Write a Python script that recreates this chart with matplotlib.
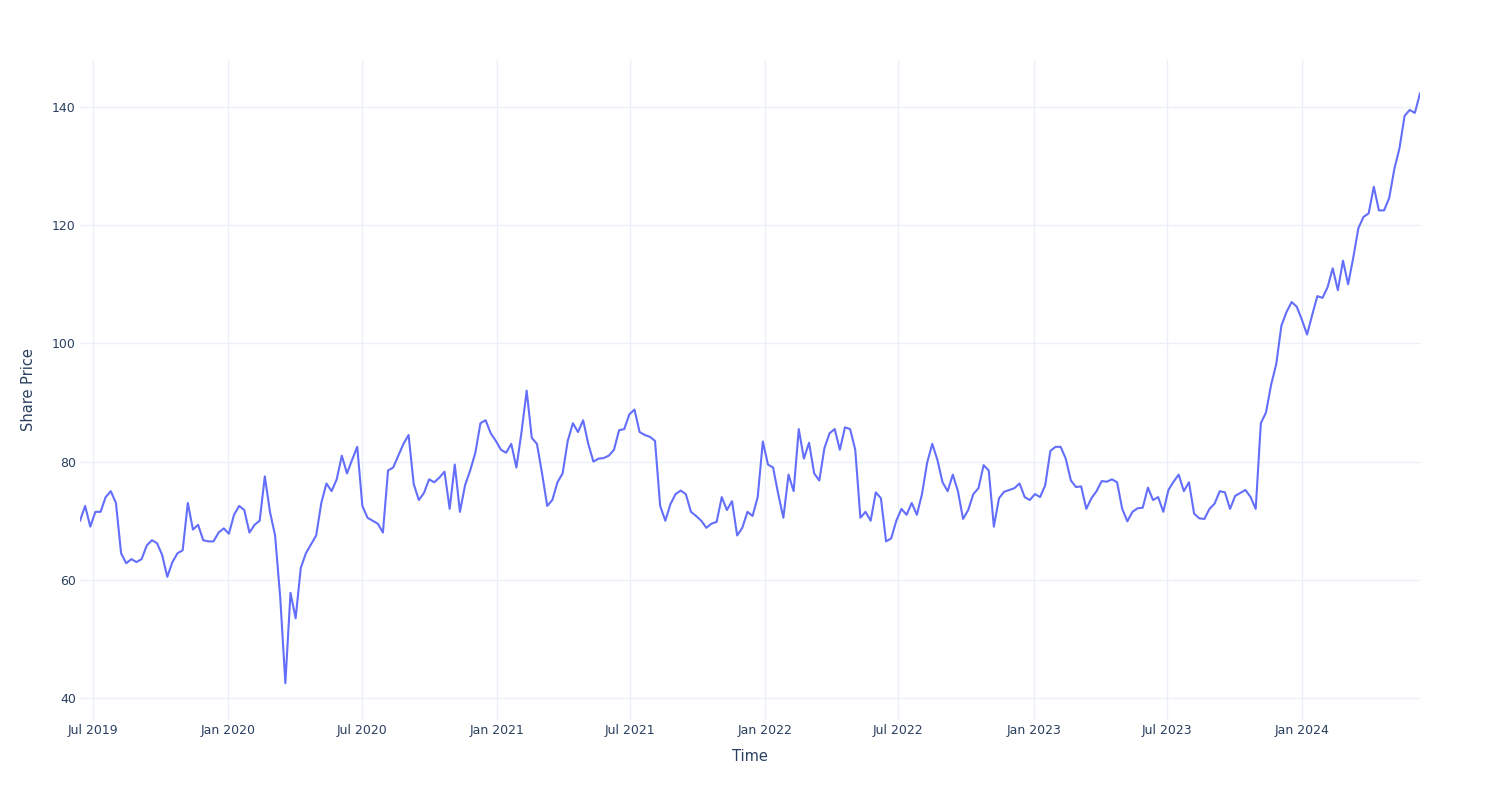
import pandas as pd
import matplotlib
matplotlib.use("Agg")
import matplotlib.pyplot as plt
import matplotlib.dates as mdates

# price, one value roughly every week
start_date = "2019-06-13"
end_date = "2024-06-10"
prices = [
    70, 72.5, 69, 71.5, 71.5, 74, 75, 73, 64.5, 62.8,
    63.5, 63, 63.5, 65.8, 66.7, 66.2, 64.2, 60.5, 63, 64.5,
    65, 73, 68.5, 69.3, 66.7, 66.5, 66.5, 68, 68.7, 67.8,
    71, 72.5, 71.8, 68, 69.3, 70, 77.5, 71.5, 67.5, 57,
    42.5, 57.8, 53.5, 62, 64.5, 66, 67.5, 73, 76.3, 75,
    77, 81, 78, 80.3, 82.5, 72.5, 70.5, 70, 69.5, 68,
    78.5, 79, 81, 83, 84.5, 76.2, 73.5, 74.7, 77, 76.5,
    77.3, 78.3, 72, 79.5, 71.5, 76, 78.5, 81.5, 86.5, 87,
    84.8, 83.5, 82, 81.5, 83, 79, 85, 92, 84, 83,
    78, 72.5, 73.5, 76.5, 78, 83.5, 86.5, 85, 87, 83,
    80, 80.5, 80.6, 81, 82, 85.3, 85.5, 88, 88.8, 85,
    84.5, 84.2, 83.5, 72.5, 70, 72.8, 74.5, 75.1, 74.5, 71.5,
    70.8, 70, 68.8, 69.5, 69.8, 74, 71.8, 73.3, 67.5, 68.8,
    71.5, 70.8, 74, 83.4, 79.5, 79, 74.5, 70.5, 77.8, 75,
    85.5, 80.5, 83.2, 78, 76.8, 82.3, 84.8, 85.5, 82, 85.8,
    85.5, 82, 70.5, 71.5, 70, 74.8, 73.8, 66.5, 67, 70,
    72, 71, 73, 71, 74.5, 79.8, 83, 80.3, 76.5, 75,
    77.8, 75, 70.3, 71.8, 74.5, 75.5, 79.4, 78.5, 69, 73.8,
    74.9, 75.2, 75.5, 76.3, 74, 73.5, 74.5, 74, 76, 81.8,
    82.5, 82.5, 80.5, 76.8, 75.7, 75.8, 72, 73.8, 75, 76.7,
    76.6, 77, 76.5, 72, 69.9, 71.5, 72.1, 72.2, 75.6, 73.5,
    74, 71.5, 75.2, 76.6, 77.8, 75, 76.5, 71.2, 70.4, 70.3,
    72, 72.9, 75, 74.8, 72, 74.2, 74.7, 75.2, 74, 72,
    86.5, 88.3, 93, 96.5, 103, 105.3, 107, 106.2, 104, 101.5,
    104.8, 108, 107.7, 109.5, 112.7, 109, 114, 110, 114.5, 119.5,
    121.4, 122, 126.5, 122.5, 122.5, 124.6, 129.5, 133, 138.5, 139.5,
    139, 142.3,
]
dates = pd.date_range(start_date, end_date, periods=len(prices))

y_ticks = [40, 60, 80, 100, 120, 140]

line_color = "#636EFA"
grid_color = "#EBF0F8"
text_color = "#2a3f5f"

plt.rcParams["font.family"] = ["DejaVu Sans"]

fig = plt.figure(figsize=(15, 8), dpi=100)
ax = fig.add_axes([80 / 1500, 80 / 800, 1340 / 1500, 660 / 800])

ax.plot(dates, prices, color=line_color, linewidth=1.5)

ax.set_xlim(dates[0], dates[-1])
ax.set_ylim(36.28, 147.95)
ax.set_yticks(y_ticks)

ax.xaxis.set_major_locator(mdates.MonthLocator(bymonth=[1, 7]))
ax.xaxis.set_major_formatter(mdates.DateFormatter("%b %Y"))

ax.grid(True, color=grid_color, linewidth=1)
ax.set_axisbelow(True)
for s in ax.spines.values():
    s.set_visible(False)

ax.tick_params(axis="both", length=0, labelsize=9, labelcolor=text_color)
ax.tick_params(axis="y", pad=3)
ax.tick_params(axis="x", pad=3)

ax.set_xlabel("Time", fontsize=10.5, color=text_color, labelpad=8.5)
ax.set_ylabel("Share Price", fontsize=10.5, color=text_color, labelpad=11.5)

fig.savefig("out.png", dpi=100, facecolor="white")
